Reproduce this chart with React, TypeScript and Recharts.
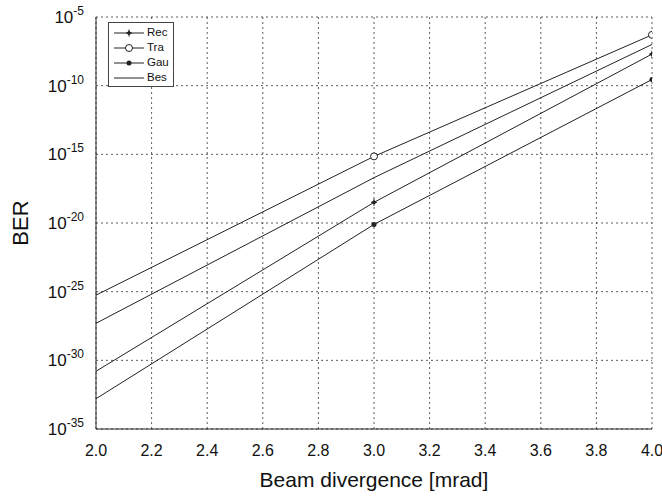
import { type FC } from "react";
import {
  LineChart,
  Line,
  XAxis,
  YAxis,
  CartesianGrid,
  Legend,
} from "recharts";

// beam divergence [mrad]
const divergence = [2.0, 3.0, 4.0];

// BER per beam profile
const recBer = [1.6e-31, 3.2e-19, 2.0e-8];
const traBer = [5.6e-26, 7.1e-16, 5.0e-7];
const gauBer = [1.6e-33, 7.9e-21, 2.8e-10];
const besBer = [5.0e-28, 2.0e-17, 1.0e-7];

const xTicks = [2.0, 2.2, 2.4, 2.6, 2.8, 3.0, 3.2, 3.4, 3.6, 3.8, 4.0];
const yTicks = [1e-35, 1e-30, 1e-25, 1e-20, 1e-15, 1e-10, 1e-5];

const seriesNames = ["Rec", "Tra", "Gau", "Bes"];

const data = divergence.map((x, i) => ({
  x,
  Rec: recBer[i],
  Tra: traBer[i],
  Gau: gauBer[i],
  Bes: besBer[i],
}));

const FONT = "'Liberation Sans', Arial, sans-serif";
const INK = "#222";

type Mark = "plus" | "circle" | "dot" | "none";

const marks: Record<string, Mark> = {
  Rec: "plus",
  Tra: "circle",
  Gau: "dot",
  Bes: "none",
};

const Marker: FC<{ kind: Mark; cx: number; cy: number }> = ({ kind, cx, cy }) => {
  if (kind === "plus")
    return (
      <g stroke={INK} strokeWidth={1}>
        <line x1={cx - 3} y1={cy} x2={cx + 3} y2={cy} />
        <line x1={cx} y1={cy - 3.5} x2={cx} y2={cy + 3.5} />
        <circle cx={cx} cy={cy} r={1.5} fill={INK} />
      </g>
    );
  if (kind === "circle")
    return <circle cx={cx} cy={cy} r={3.5} fill="#fff" stroke={INK} strokeWidth={1} />;
  if (kind === "dot") return <circle cx={cx} cy={cy} r={2.5} fill={INK} stroke="none" />;
  return <g />;
};

// markers only where the reference shows them (not at the left edge)
const makeDot = (kind: Mark) => (props: any) => {
  const { cx, cy, payload, index } = props;
  if (payload.x <= 2.0 || cx == null || cy == null) return <g key={index} />;
  return <Marker key={index} kind={kind} cx={cx} cy={cy} />;
};

const YTick = (props: any) => {
  const { x, y, payload } = props;
  const exp = Math.round(Math.log10(payload.value));
  return (
    <text x={x - 4} y={y + 6} textAnchor="end" fontFamily={FONT} fontSize={17} fill="#111">
      10
      <tspan dy={-8} fontSize={12}>
        {exp}
      </tspan>
    </text>
  );
};

const LegendBox = () => (
  <div
    style={{
      border: `1px solid #444`,
      background: "#fff",
      padding: "2px 4px 1px 5px",
      fontFamily: FONT,
      fontSize: 11.5,
      color: "#111",
      lineHeight: "15px",
    }}
  >
    {seriesNames.map((name) => (
      <div key={name} style={{ display: "flex", alignItems: "center", height: 15 }}>
        <svg width={30} height={12} style={{ marginRight: 3 }}>
          <line x1={0} y1={6} x2={30} y2={6} stroke={INK} strokeWidth={1} />
          <Marker kind={marks[name]} cx={15} cy={6} />
        </svg>
        <span>{name}</span>
      </div>
    ))}
  </div>
);

const App = () => (
  <div style={{ position: "absolute", left: 0, top: 0, background: "#fff" }}>
    <LineChart
      width={662}
      height={496}
      data={data}
      margin={{ top: 17, right: 10, left: 10, bottom: 27 }}
    >
      <CartesianGrid stroke="#333" strokeDasharray="2 3" strokeWidth={0.8} />
      <XAxis
        dataKey="x"
        type="number"
        domain={[2, 4]}
        ticks={xTicks}
        tickFormatter={(v: number) => v.toFixed(1)}
        tickLine={false}
        axisLine={{ stroke: INK }}
        tick={{ fontFamily: FONT, fontSize: 16, fill: "#111" }}
        tickMargin={10}
        height={40}
        interval={0}
        allowDataOverflow
        label={{
          content: ({ viewBox }: any) => (
            <text
              x={viewBox.x + viewBox.width / 2}
              y={487}
              textAnchor="middle"
              fontFamily={FONT}
              fontSize={21}
              fill="#111"
            >
              Beam divergence [mrad]
            </text>
          ),
        }}
      />
      <YAxis
        scale="log"
        type="number"
        domain={[1e-35, 1e-5]}
        ticks={yTicks}
        tick={<YTick />}
        tickLine={false}
        axisLine={{ stroke: INK }}
        width={86}
        interval={0}
        allowDataOverflow
        label={{
          content: ({ viewBox }: any) => {
            const cy = viewBox.y + viewBox.height / 2;
            return (
              <text
                x={28}
                y={cy}
                transform={`rotate(-90 28 ${cy})`}
                textAnchor="middle"
                fontFamily={FONT}
                fontSize={22}
                fill="#111"
              >
                BER
              </text>
            );
          },
        }}
      />
      {/* right and top frame */}
      <XAxis xAxisId="top" orientation="top" type="number" domain={[2, 4]} tick={false} tickLine={false} axisLine={{ stroke: INK }} height={0} />
      <YAxis yAxisId="right" orientation="right" tick={false} tickLine={false} axisLine={{ stroke: INK }} width={0} />
      <Legend
        layout="vertical"
        align="center"
        verticalAlign="middle"
        content={<LegendBox />}
        wrapperStyle={{ left: 108, top: 22, width: "auto" }}
      />
      {seriesNames.map((name) => (
        <Line
          key={name}
          type="linear"
          dataKey={name}
          stroke={INK}
          strokeWidth={1}
          dot={makeDot(marks[name])}
          activeDot={false}
          isAnimationActive={false}
        />
      ))}
    </LineChart>
  </div>
);

export default App;
